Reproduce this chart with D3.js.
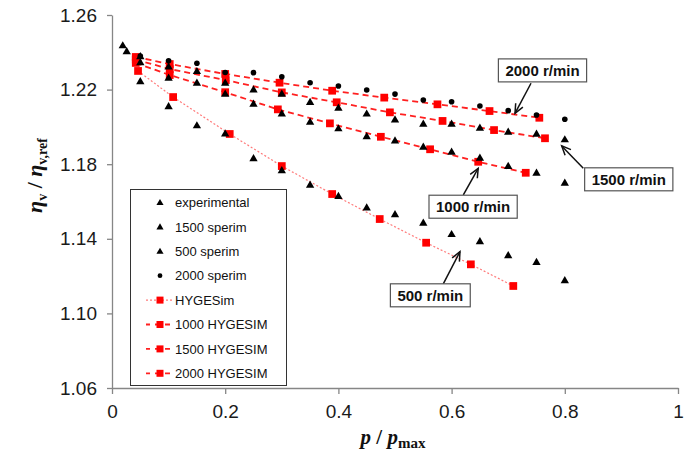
<!DOCTYPE html>
<html><head><meta charset="utf-8">
<script src="https://cdn.jsdelivr.net/npm/d3@7/dist/d3.min.js"></script>
<style>html,body{margin:0;padding:0;background:#fff;}svg{display:block;}</style>
</head><body>
<script>
// ---- data ----
const xTicks = [0, 0.2, 0.4, 0.6, 0.8, 1];
const yTicks = [1.06, 1.10, 1.14, 1.18, 1.22, 1.26];

const pExp = [0.05,0.10,0.15,0.20,0.25,0.30,0.35,0.40,0.45,0.50,0.55,0.60,0.65,0.70,0.75,0.80];
const expExperimental = [1.2344,1.2261,1.2234,1.2175,1.2121,1.2069,1.2025,1.1989,1.1947,1.1924,1.1891,1.1864,1.1832,1.1787,1.1751,1.1698];
const exp1500 = [1.2376,1.2320,1.2296,1.2234,1.2198,1.2175,1.2130,1.2100,1.2068,1.2037,1.2014,1.2014,1.1992,1.1971,1.1960,1.1930];
const exp500  = [1.2242,1.2108,1.2005,1.1962,1.1829,1.1764,1.1687,1.1626,1.1565,1.1528,1.1483,1.1422,1.1384,1.1309,1.1272,1.1175];
const exp2000 = [1.2380,1.2355,1.2341,1.2292,1.2291,1.2269,1.2237,1.2219,1.2198,1.2176,1.2144,1.2135,1.2112,1.2087,1.2064,1.2041];
const pStart = [0.019, 0.026];
const expStart = [1.2434, 1.2403];

const pSim500  = [0.046,0.108,0.208,0.300,0.389,0.473,0.555,0.634,0.709];
const sim500   = [1.2300,1.2160,1.1962,1.1790,1.1640,1.1506,1.1379,1.1263,1.1147];
const pSim1000 = [0.042,0.102,0.200,0.293,0.385,0.475,0.562,0.647,0.731];
const sim1000  = [1.2343,1.2278,1.2186,1.2094,1.2019,1.1947,1.1880,1.1813,1.1754];
const pSim1500 = [0.042,0.102,0.201,0.300,0.397,0.491,0.584,0.675,0.765];
const sim1500  = [1.2361,1.2310,1.2251,1.2185,1.2132,1.2078,1.2032,1.1983,1.1939];
const pSim2000 = [0.042,0.102,0.200,0.296,0.389,0.481,0.575,0.667,0.755];
const sim2000  = [1.2375,1.2337,1.2284,1.2237,1.2194,1.2157,1.2121,1.2085,1.2049];

const legendLabels = ["experimental","1500 sperim","500 sperim","2000 sperim","HYGESim","1000 HYGESIM","1500 HYGESIM","2000 HYGESIM"];

// annotations: label, box centre, arrow tail, arrow tip (in data units)
const annLabels = ["2000 r/min","1500 r/min","1000 r/min","500 r/min"];
const annBox  = [[0.7606,1.2303],[0.913,1.1719],[0.638,1.1572],[0.5624,1.1097]];
const annTail = [[0.7403,1.2234],[0.8327,1.1778],[0.6207,1.1635],[0.5853,1.1158]];
const annTip  = [[0.712,1.2073],[0.7945,1.1898],[0.647,1.1778],[0.6148,1.1331]];

// ---- drawing ----
const W = 692, H = 462;
const svg = d3.select("body").append("svg").attr("width", W).attr("height", H);
const x = d3.scaleLinear().domain([0, 1]).range([112, 678]);
const y = d3.scaleLinear().domain([1.06, 1.26]).range([388, 15]);
const axisColor = "#868686";
const tickFont = "Liberation Sans, Arial, sans-serif";

// axes
const gx = svg.append("g").attr("transform", `translate(0,${y(1.06)})`)
  .call(d3.axisBottom(x).tickValues(xTicks).tickFormat(d3.format("")).tickSize(6).tickSizeOuter(0).tickPadding(11));
const gy = svg.append("g").attr("transform", `translate(${x(0)},0)`)
  .call(d3.axisLeft(y).tickValues(yTicks).tickFormat(d3.format(".2f")).tickSize(5).tickSizeOuter(0).tickPadding(10));
[gx, gy].forEach(g => {
  g.select(".domain").attr("stroke", axisColor).attr("stroke-width", 1.3);
  g.selectAll(".tick line").attr("stroke", axisColor).attr("stroke-width", 1.3);
  g.selectAll(".tick text").attr("font-family", tickFont).attr("font-size", 19).attr("fill", "#1a1a1a");
});

// axis titles
const xl = svg.append("text").attr("x", (x(0)+x(1))/2 - 2).attr("y", 444).attr("text-anchor", "middle")
  .attr("font-family", "Liberation Serif, Times New Roman, serif").attr("font-size", 21).attr("font-weight", "bold").attr("fill", "#111");
xl.append("tspan").attr("font-style", "italic").text("p");
xl.append("tspan").text(" / ");
xl.append("tspan").attr("font-style", "italic").text("p");
xl.append("tspan").attr("font-size", 15).attr("dy", 4).text("max");

const yl = svg.append("text").attr("transform", `translate(42,${(y(1.26)+y(1.06))/2 - 26}) rotate(-90)`).attr("text-anchor", "middle")
  .attr("font-family", "Liberation Serif, Times New Roman, serif").attr("font-size", 22).attr("font-weight", "bold").attr("fill", "#111");
yl.append("tspan").attr("font-style", "italic").text("η");
yl.append("tspan").attr("font-size", 14).attr("dy", 5).text("v");
yl.append("tspan").attr("dy", -5).text(" / ");
yl.append("tspan").attr("font-style", "italic").text("η");
yl.append("tspan").attr("font-size", 14).attr("dy", 5).text("v,ref");

// simulated lines
const line = d3.line().x(d => x(d[0])).y(d => y(d[1]));
const sims = [
  {p: pSim500, v: sim500, color: "#ff7a7a", dash: "2,2", w: 1.2},
  {p: pSim1000, v: sim1000, color: "#ff2020", dash: "6,4", w: 1.8},
  {p: pSim1500, v: sim1500, color: "#ff2020", dash: "6,4", w: 1.8},
  {p: pSim2000, v: sim2000, color: "#ff2020", dash: "6,4", w: 1.8}
];
sims.forEach(s => {
  const pts = s.p.map((p, i) => [p, s.v[i]]);
  svg.append("path").datum(pts).attr("d", line).attr("fill", "none")
    .attr("stroke", s.color).attr("stroke-width", s.w).attr("stroke-dasharray", s.dash);
});
const sq = d3.symbol(d3.symbolSquare, 60);
sims.forEach(s => {
  svg.append("g").selectAll("path").data(s.p.map((p, i) => [p, s.v[i]])).join("path")
    .attr("d", sq).attr("transform", d => `translate(${x(d[0])},${y(d[1])})`).attr("fill", "#ff0000");
});

// experimental markers
const tri = d3.symbol(d3.symbolTriangle, 30);
const triSeries = [expExperimental, exp1500, exp500];
svg.append("g").selectAll("circle").data(pExp.map((p, i) => [p, exp2000[i]])).join("circle")
  .attr("cx", d => x(d[0])).attr("cy", d => y(d[1])).attr("r", 2.8).attr("fill", "#000");
triSeries.forEach(arr => {
  svg.append("g").selectAll("path").data(pExp.map((p, i) => [p, arr[i]])).join("path")
    .attr("d", tri).attr("transform", d => `translate(${x(d[0])},${y(d[1])})`).attr("fill", "#000");
});
svg.append("g").selectAll("path").data(pStart.map((p, i) => [p, expStart[i]])).join("path")
  .attr("d", tri).attr("transform", d => `translate(${x(d[0])},${y(d[1])})`).attr("fill", "#000");

// legend
const lg = svg.append("g");
lg.append("rect").attr("x", 130.5).attr("y", 189.5).attr("width", 156).attr("height", 196)
  .attr("fill", "#fff").attr("stroke", "#333").attr("stroke-width", 1);
legendLabels.forEach((lab, i) => {
  const cy = 202.5 + i * 24.4;
  if (i < 3) {
    lg.append("path").attr("d", d3.symbol(d3.symbolTriangle, 22)).attr("transform", `translate(160,${cy + 0.5})`).attr("fill", "#000");
  } else if (i === 3) {
    lg.append("circle").attr("cx", 160).attr("cy", cy).attr("r", 2.4).attr("fill", "#000");
  } else {
    const s = sims[i - 4];
    lg.append("line").attr("x1", 146).attr("x2", 174).attr("y1", cy).attr("y2", cy)
      .attr("stroke", s.color).attr("stroke-width", s.w).attr("stroke-dasharray", i === 4 ? "2,2" : "5,5")
      .attr("stroke-dashoffset", i === 4 ? 0 : 1);
    lg.append("path").attr("d", d3.symbol(d3.symbolSquare, 49)).attr("transform", `translate(160,${cy})`).attr("fill", "#ff0000");
  }
  lg.append("text").attr("x", 175).attr("y", cy).attr("dy", "0.36em")
    .attr("font-family", tickFont).attr("font-size", 13).attr("fill", "#111").text(lab);
});

// annotations
annLabels.forEach((lab, i) => {
  const cx = x(annBox[i][0]), cy = y(annBox[i][1]);
  const sx = x(annTail[i][0]), sy = y(annTail[i][1]);
  const tx = x(annTip[i][0]), ty = y(annTip[i][1]);
  const g = svg.append("g");
  g.append("line").attr("x1", sx).attr("y1", sy).attr("x2", tx).attr("y2", ty)
    .attr("stroke", "#111").attr("stroke-width", 1.5);
  const ang = Math.atan2(ty - sy, tx - sx), L = 10, a = 0.42;
  g.append("path").attr("d", `M${tx - L*Math.cos(ang - a)},${ty - L*Math.sin(ang - a)}L${tx},${ty}L${tx - L*Math.cos(ang + a)},${ty - L*Math.sin(ang + a)}`)
    .attr("fill", "none").attr("stroke", "#111").attr("stroke-width", 1.5);
  const rect = g.append("rect");
  const t = g.append("text").attr("x", cx).attr("y", cy).attr("dy", "0.36em").attr("text-anchor", "middle")
    .attr("font-family", tickFont).attr("font-size", 15).attr("font-weight", "bold").attr("fill", "#111").text(lab);
  const bb = t.node().getBBox();
  const bw = bb.width + 14, bh = 23;
  rect.attr("x", cx - bw/2).attr("y", cy - bh/2).attr("width", bw).attr("height", bh)
    .attr("fill", "#fff").attr("stroke", "#555").attr("stroke-width", 1.2);
});
</script>
</body></html>
